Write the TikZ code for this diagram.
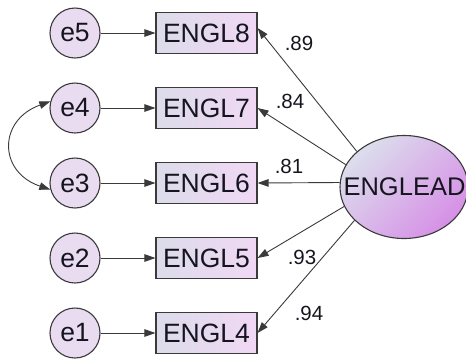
\documentclass[tikz,border=0pt]{standalone}
\usepackage{fontspec}
\setmainfont{Liberation Sans}
\usetikzlibrary{arrows.meta,shapes.geometric}
\definecolor{circfill}{HTML}{EADCF0}
\definecolor{boxl}{HTML}{DCDCEA}
\definecolor{boxr}{HTML}{F0D8F4}
\definecolor{elltl}{HTML}{DCDEEC}
\definecolor{ellbr}{HTML}{D690E6}
\definecolor{edge}{HTML}{3A3A3A}
\definecolor{ink}{HTML}{15151F}
\begin{document}
\begin{tikzpicture}[x=1pt,y=-1pt,
  errc/.style={circle,draw=edge,line width=1.1pt,fill=circfill,minimum size=50pt,inner sep=0pt,
    font=\fontsize{26.5}{28}\selectfont,text=ink},
  obsbox/.style={rectangle,draw=edge,line width=1.1pt,left color=boxl,right color=boxr,
    minimum width=101pt,minimum height=41pt,inner sep=0pt,font=\fontsize{26.5}{28}\selectfont,text=ink},
  lat/.style={ellipse,draw=edge,line width=1.1pt,top color=elltl,bottom color=ellbr,shading angle=45,
    minimum width=128pt,minimum height=103pt,inner sep=0pt},
  conn/.style={draw=edge,line width=0.9pt,-{Triangle[length=11pt,width=7.5pt]}},
  wlab/.style={font=\fontsize{20.5}{22}\selectfont,text=ink,inner sep=0pt}
]
\useasboundingbox (0,0) rectangle (466,360);
\node[errc] (e5) at (75,33) {e5};
\node[errc] (e4) at (75,108) {e4};
\node[errc] (e3) at (75,183) {e3};
\node[errc] (e2) at (75,258) {e2};
\node[errc] (e1) at (75,333) {e1};
\node[obsbox] (b8) at (206.5,33) {ENGL8};
\node[obsbox] (b7) at (206.5,108) {ENGL7};
\node[obsbox] (b6) at (206.5,183) {ENGL6};
\node[obsbox] (b5) at (206.5,258) {ENGL5};
\node[obsbox] (b4) at (206.5,333) {ENGL4};
\node[lat] (lv) at (404,187) {};
\node[font=\fontsize{25.5}{27}\selectfont,text=ink,inner sep=0pt] (lvt) at (404.5,187) {ENGLEAD};
\draw[conn] (e5) -- (b8);
\draw[conn] (e4) -- (b7);
\draw[conn] (e3) -- (b6);
\draw[conn] (e2) -- (b5);
\draw[conn] (e1) -- (b4);
\draw[conn] (lv.143) -- ([yshift=5pt]b8.east);
\draw[conn] (lv.159) -- (b7.east);
\draw[conn] (lv.176) -- (b6.east);
\draw[conn] (lv.198) -- (b5.east);
\draw[conn] (lv.214) -- (b4.east);
\draw[draw=edge,line width=0.9pt,{Triangle[length=11pt,width=7.5pt]}-{Triangle[length=11pt,width=7.5pt]}]
  (e4.165) .. controls (-2,120) and (-2,172) .. (e3.195);
\node[wlab] (l8) at (299,43) {.89};
\node[wlab] (l7) at (290,101) {.84};
\node[wlab] (l6) at (289,166) {.81};
\node[wlab] (l5) at (302,257) {.93};
\node[wlab] (l4) at (309,313) {.94};
\end{tikzpicture}
\end{document}
